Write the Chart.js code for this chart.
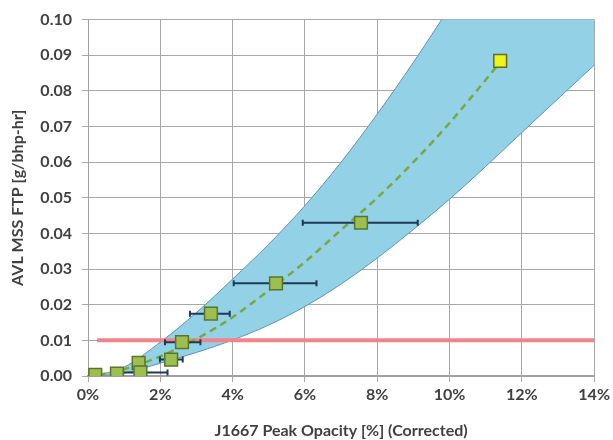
<!DOCTYPE html>
<html>
<head>
<meta charset="utf-8">
<script src="https://cdn.jsdelivr.net/npm/chart.js@4/dist/chart.umd.min.js"></script>
<style>
html,body{margin:0;padding:0;background:#fff;}
canvas{display:block;}
</style>
</head>
<body>
<canvas id="c" width="613" height="440"></canvas>
<script>
// Tick labels
const xTicks = [0, 2, 4, 6, 8, 10, 12, 14];
const yTicks = [0.00, 0.01, 0.02, 0.03, 0.04, 0.05, 0.06, 0.07, 0.08, 0.09, 0.10];

// Measured points (opacity %, g/bhp-hr)
const ptX = [0.2, 0.8, 1.4, 1.45, 2.3, 2.6, 3.4, 5.2, 7.55];
const ptY = [0.0003, 0.0007, 0.0037, 0.0010, 0.0046, 0.0095, 0.0175, 0.026, 0.043];
// Highlighted point
const hiX = [11.4];
const hiY = [0.0884];

// Horizontal error bars (low / high opacity) for points
const errY  = [0.0010, 0.0046, 0.0095, 0.0175, 0.026, 0.043];
const errLo = [0.97, 1.99, 2.13, 2.82, 4.03, 5.94];
const errHi = [2.20, 2.62, 3.11, 3.92, 6.32, 9.12];

// Dashed fit curve
const fitX = [0.3, 1, 2, 3, 4, 5, 6, 7, 8, 9, 10, 11.4];
const fitY = [0.0003, 0.0019, 0.0055, 0.0104, 0.0165, 0.024, 0.032, 0.041, 0.050, 0.060, 0.071, 0.088];

// Confidence band edges
const bandX  = [0.2, 1, 2, 3, 4, 5, 6, 7, 8, 9, 10, 11, 12, 13, 14];
const bandHi = [0.0, 0.0025, 0.0095, 0.0178, 0.0272, 0.0370, 0.0478, 0.0600, 0.0735, 0.088, 0.1035, 0.120, 0.137, 0.155, 0.173];
const bandLo = [0.0, 0.0008, 0.0036, 0.0066, 0.0101, 0.0143, 0.0195, 0.0258, 0.0331, 0.0411, 0.0496, 0.0588, 0.0683, 0.0778, 0.0872];

// Limit line
const limitX = [0.25, 14];
const limitY = 0.01;

const toXY = (xs, ys) => xs.map((x, i) => ({x: x, y: ys[i]}));

const errSets = errY.map((y, i) => ({
  data: [{x: errLo[i], y: y}, {x: errHi[i], y: y}],
  showLine: true,
  borderColor: '#1f3a57',
  borderWidth: 2,
  pointStyle: 'line',
  rotation: 90,
  pointRadius: 3,
  pointBorderColor: '#1f3a57',
  pointBorderWidth: 2,
  order: 1
}));

const datasets = [
  {
    data: toXY(ptX, ptY),
    pointStyle: 'rect',
    pointRadius: 9,
    pointBackgroundColor: '#9cbf4f',
    pointBorderColor: '#58752a',
    pointBorderWidth: 1.5,
    showLine: false,
    order: 0
  },
  {
    data: toXY(hiX, hiY),
    pointStyle: 'rect',
    pointRadius: 9,
    pointBackgroundColor: '#f2f21c',
    pointBorderColor: '#5f6e22',
    pointBorderWidth: 1.5,
    showLine: false,
    order: 0
  },
  ...errSets,
  {
    data: toXY(fitX, fitY),
    showLine: true,
    borderColor: '#79a83c',
    borderWidth: 2.5,
    borderDash: [7, 5],
    pointRadius: 0,
    cubicInterpolationMode: 'monotone',
    order: 2
  },
  {
    data: limitX.map(x => ({x: x, y: limitY})),
    showLine: true,
    borderColor: '#f0848a',
    borderWidth: 4,
    pointRadius: 0,
    order: 3
  },
  {
    data: toXY(bandX, bandHi),
    showLine: true,
    borderColor: '#5f93b3',
    borderWidth: 1,
    pointRadius: 0,
    cubicInterpolationMode: 'monotone',
    fill: '+1',
    backgroundColor: '#93d1e6',
    order: 5
  },
  {
    data: toXY(bandX, bandLo),
    showLine: true,
    borderColor: '#5f93b3',
    borderWidth: 1,
    pointRadius: 0,
    cubicInterpolationMode: 'monotone',
    fill: false,
    order: 4
  }
];

const fontSpec = {family: 'Lato', size: 16, weight: 'bold'};

new Chart(document.getElementById('c'), {
  type: 'scatter',
  data: {datasets: datasets},
  options: {
    responsive: false,
    animation: false,
    devicePixelRatio: 1,
    layout: {padding: {left: 0, right: 18, top: 15, bottom: 0}},
    plugins: {legend: {display: false}, tooltip: {enabled: false}},
    scales: {
      x: {
        type: 'linear',
        min: xTicks[0],
        max: xTicks[xTicks.length - 1],
        afterBuildTicks: s => { s.ticks = xTicks.map(v => ({value: v})); },
        afterFit: s => { s.height = 64; },
        ticks: {
          callback: v => v + '%',
          color: '#404040',
          font: fontSpec,
          padding: 3,
          maxRotation: 0
        },
        grid: {color: '#a8a8a8', lineWidth: 1, tickLength: 6},
        border: {color: '#a0a0a0', width: 2},
        title: {
          display: true,
          text: 'J1667 Peak Opacity [%] (Corrected)',
          color: '#404040',
          font: fontSpec,
          padding: {top: 6, bottom: 0}
        }
      },
      y: {
        type: 'linear',
        min: yTicks[0],
        max: yTicks[yTicks.length - 1],
        afterBuildTicks: s => { s.ticks = yTicks.map(v => ({value: v})); },
        afterFit: s => { s.width = 88; },
        ticks: {
          callback: v => v.toFixed(2),
          color: '#404040',
          font: fontSpec,
          padding: 10
        },
        grid: {color: '#a8a8a8', lineWidth: 1, tickLength: 6},
        border: {color: '#a0a0a0', width: 1},
        title: {
          display: true,
          text: 'AVL MSS FTP [g/bhp-hr]',
          color: '#404040',
          font: fontSpec,
          padding: {top: 8, bottom: 4}
        }
      }
    }
  }
});
</script>
</body>
</html>
